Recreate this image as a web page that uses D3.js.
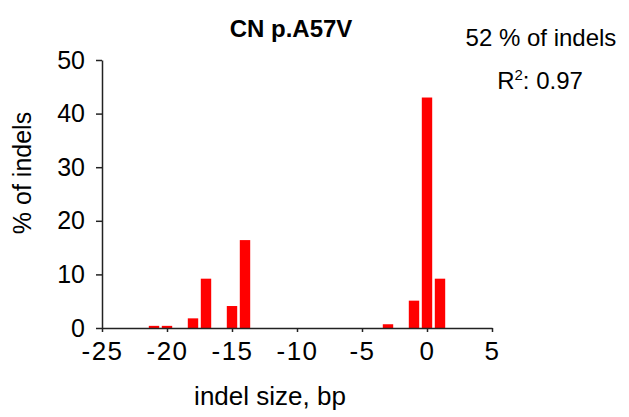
<html>
<head>
<script src="https://d3js.org/d3.v7.min.js"></script>
<style>
  body { margin: 0; background: white; }
  text { font-family: "Liberation Sans", Arial, sans-serif; fill: #000; }
</style>
</head>
<body>
<svg width="629" height="417"></svg>
<script>
  // indel size (bp) and % of indels
  var sizes = [-21, -20, -18, -17, -15, -14, -3, -1, 0, 1];
  var pct = [0.4, 0.4, 1.8, 9.2, 4.1, 16.4, 0.7, 5.1, 43.0, 9.2];
  var xTicks = [-25, -20, -15, -10, -5, 0, 5];
  var yTicks = [0, 10, 20, 30, 40, 50];

  var svg = d3.select("svg");
  var xs = d3.scaleLinear().domain([-25, 5]).range([102, 492]);
  var ys = d3.scaleLinear().domain([0, 50]).range([328, 60]);
  var barW = xs(0.8) - xs(0);

  var data = sizes.map(function(s, i) { return {size: s, value: pct[i]}; });

  svg.append("g").selectAll("rect").data(data).enter()
    .append("rect")
    .attr("x", function(d) { return xs(d.size) - barW / 2; })
    .attr("y", function(d) { return ys(d.value); })
    .attr("width", barW)
    .attr("height", function(d) { return ys(0) - ys(d.value); })
    .attr("fill", "#ff0000");

  var xAxis = svg.append("g").attr("transform", "translate(0," + ys(0) + ")")
    .call(d3.axisBottom(xs).tickValues(xTicks).tickFormat(function(d) { return d; })
      .tickSize(4).tickSizeOuter(0).tickPadding(10));

  var yAxis = svg.append("g").attr("transform", "translate(" + xs(-25) + ",0)")
    .call(d3.axisLeft(ys).tickValues(yTicks).tickFormat(function(d) { return d; })
      .tickSize(6).tickSizeOuter(0).tickPadding(11));

  [xAxis, yAxis].forEach(function(a) {
    a.selectAll("path, line").attr("stroke", "#222").attr("stroke-width", 1.5);
    a.selectAll("text").attr("fill", "#000")
      .style("font-family", "'Liberation Sans', Arial, sans-serif");
  });
  yAxis.selectAll("text").style("font-size", "25px");
  xAxis.selectAll("text").style("font-size", "26px").style("letter-spacing", "1.5px");

  svg.append("text")
    .attr("x", 291).attr("y", 37)
    .attr("text-anchor", "middle")
    .style("font-size", "24px").style("font-weight", "bold")
    .text("CN p.A57V");

  svg.append("text")
    .attr("x", 541).attr("y", 46)
    .attr("text-anchor", "middle")
    .style("font-size", "24px")
    .text("52 % of indels");

  var r2 = svg.append("text")
    .attr("x", 540).attr("y", 89)
    .attr("text-anchor", "middle")
    .style("font-size", "24px");
  r2.append("tspan").text("R");
  r2.append("tspan").attr("dy", -9).style("font-size", "15px").text("2");
  r2.append("tspan").attr("dy", 9).text(": 0.97");

  svg.append("text")
    .attr("x", 270).attr("y", 405)
    .attr("text-anchor", "middle")
    .style("font-size", "26px")
    .text("indel size, bp");

  svg.append("text")
    .attr("transform", "translate(31,173) rotate(-90)")
    .attr("text-anchor", "middle")
    .style("font-size", "25px")
    .text("% of indels");
</script>
</body>
</html>
